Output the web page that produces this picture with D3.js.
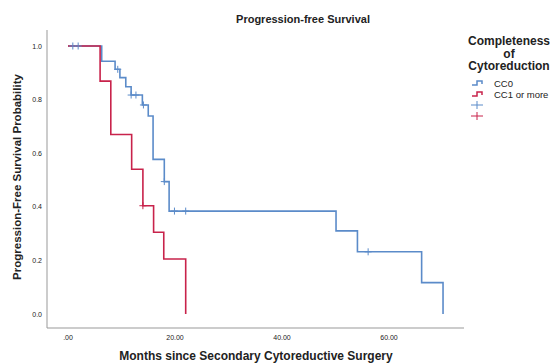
<!DOCTYPE html>
<html>
<head>
<meta charset="utf-8">
<script src="https://cdn.jsdelivr.net/npm/d3@7"></script>
<style>
  body { margin: 0; background: #fff; }
  svg text { font-family: "Liberation Sans", Arial, sans-serif; fill: #222; }
</style>
</head>
<body>
<svg id="chart" width="552" height="364"></svg>
<script>
// step points (months, survival)
var cc0Times = [0, 6.3, 8.8, 9.7, 10.8, 11.8, 13.9, 15.0, 15.9, 18.0, 18.9, 50.1, 54.1, 66.1, 70.1];
var cc0Surv  = [1.0, 0.943, 0.913, 0.882, 0.848, 0.817, 0.780, 0.739, 0.577, 0.494, 0.384, 0.310, 0.232, 0.117, 0.0];
var cc0Censor = [0.9, 1.9, 9.3, 11.8, 12.7, 14.1, 18.0, 19.9, 22.0, 56.1];

var cc1Times = [0, 6.0, 8.0, 11.9, 14.0, 16.0, 17.9, 22.0];
var cc1Surv  = [1.0, 0.869, 0.670, 0.540, 0.404, 0.305, 0.205, 0.0];
var cc1Censor = [14.0];

var xTicks = [0, 20, 40, 60];
var yTicks = [0, 0.2, 0.4, 0.6, 0.8, 1.0];
var groups = ["CC0", "CC1 or more"];
var colors = ["#5b8bc9", "#c8234b"];

var svg = d3.select("#chart");

var x = d3.scaleLinear().domain([0, 60]).range([68, 389]);
var y = d3.scaleLinear().domain([0, 1]).range([314, 46]);

// axes frame (left + bottom)
svg.append("line").attr("x1", 47).attr("x2", 47).attr("y1", 30).attr("y2", 328)
  .style("stroke", "#999").style("stroke-width", 1);
svg.append("line").attr("x1", 47).attr("x2", 464).attr("y1", 328).attr("y2", 328)
  .style("stroke", "#999").style("stroke-width", 1);

svg.selectAll(".ytick").data(yTicks).enter().append("text")
  .attr("class", "ytick")
  .attr("x", 42).attr("y", function(d) { return y(d) + 2.5; })
  .attr("text-anchor", "end").attr("font-size", "7px")
  .text(d3.format(".1f"));

svg.selectAll(".xtick").data(xTicks).enter().append("text")
  .attr("class", "xtick")
  .attr("x", function(d) { return x(d); }).attr("y", 340)
  .attr("text-anchor", "middle").attr("font-size", "7px")
  .text(function(d) { return d === 0 ? ".00" : d.toFixed(2); });

function stepPath(times, surv) {
  var pts = [];
  for (var i = 0; i < times.length; i++) {
    if (i > 0) pts.push([times[i], surv[i - 1]]);
    pts.push([times[i], surv[i]]);
  }
  return d3.line().x(function(d) { return x(d[0]); }).y(function(d) { return y(d[1]); })(pts);
}

function survAt(times, surv, t) {
  var s = surv[0];
  for (var i = 0; i < times.length; i++) if (times[i] <= t) s = surv[i];
  return s;
}

var series = [
  { times: cc0Times, surv: cc0Surv, censor: cc0Censor, color: colors[0] },
  { times: cc1Times, surv: cc1Surv, censor: cc1Censor, color: colors[1] }
];

series.forEach(function(s) {
  svg.append("path")
    .attr("d", stepPath(s.times, s.surv))
    .style("fill", "none").style("stroke", s.color).style("stroke-width", 1.6);
});

// censor marks on top of both curves
series.forEach(function(s) {
  s.censor.forEach(function(t) {
    var cx = x(t), cy = y(survAt(s.times, s.surv, t));
    svg.append("line").attr("x1", cx).attr("x2", cx).attr("y1", cy - 3.5).attr("y2", cy + 3.5)
      .style("stroke", s.color).style("stroke-width", 1);
    svg.append("line").attr("x1", cx - 3.5).attr("x2", cx + 3.5).attr("y1", cy).attr("y2", cy)
      .style("stroke", s.color).style("stroke-width", 1);
  });
});

// titles
svg.append("text").attr("x", 303).attr("y", 23).attr("text-anchor", "middle")
  .attr("font-size", "11px").attr("font-weight", "bold").text("Progression-free Survival");
svg.append("text").attr("x", 256).attr("y", 360).attr("text-anchor", "middle")
  .attr("font-size", "12px").attr("font-weight", "bold").text("Months since Secondary Cytoreductive Surgery");
svg.append("text").attr("transform", "translate(21,177) rotate(-90)").attr("text-anchor", "middle")
  .attr("font-size", "11.5px").attr("font-weight", "bold").text("Progression-Free Survival Probability");

// legend
var legTitle = ["Completeness", "of", "Cytoreduction"];
svg.selectAll(".legtitle").data(legTitle).enter().append("text")
  .attr("class", "legtitle")
  .attr("x", 509).attr("y", function(d, i) { return 45 + i * 12.5; })
  .attr("text-anchor", "middle").attr("font-size", "12px").attr("font-weight", "bold")
  .text(function(d) { return d; });

groups.forEach(function(g, i) {
  var ly = 83 + i * 11;
  svg.append("path")
    .attr("d", "M472," + (ly + 2) + "H477V" + (ly - 2) + "H482V" + (ly + 1))
    .style("fill", "none").style("stroke", colors[i]).style("stroke-width", 1.5);
  svg.append("text").attr("x", 494).attr("y", ly + 3.5).attr("font-size", "9.5px").text(g);
});
colors.forEach(function(c, i) {
  var ly = 105 + i * 11;
  svg.append("line").attr("x1", 471).attr("x2", 483).attr("y1", ly).attr("y2", ly)
    .style("stroke", c).style("stroke-width", 1);
  svg.append("line").attr("x1", 477).attr("x2", 477).attr("y1", ly - 4).attr("y2", ly + 4)
    .style("stroke", c).style("stroke-width", 1);
});
</script>
</body>
</html>
